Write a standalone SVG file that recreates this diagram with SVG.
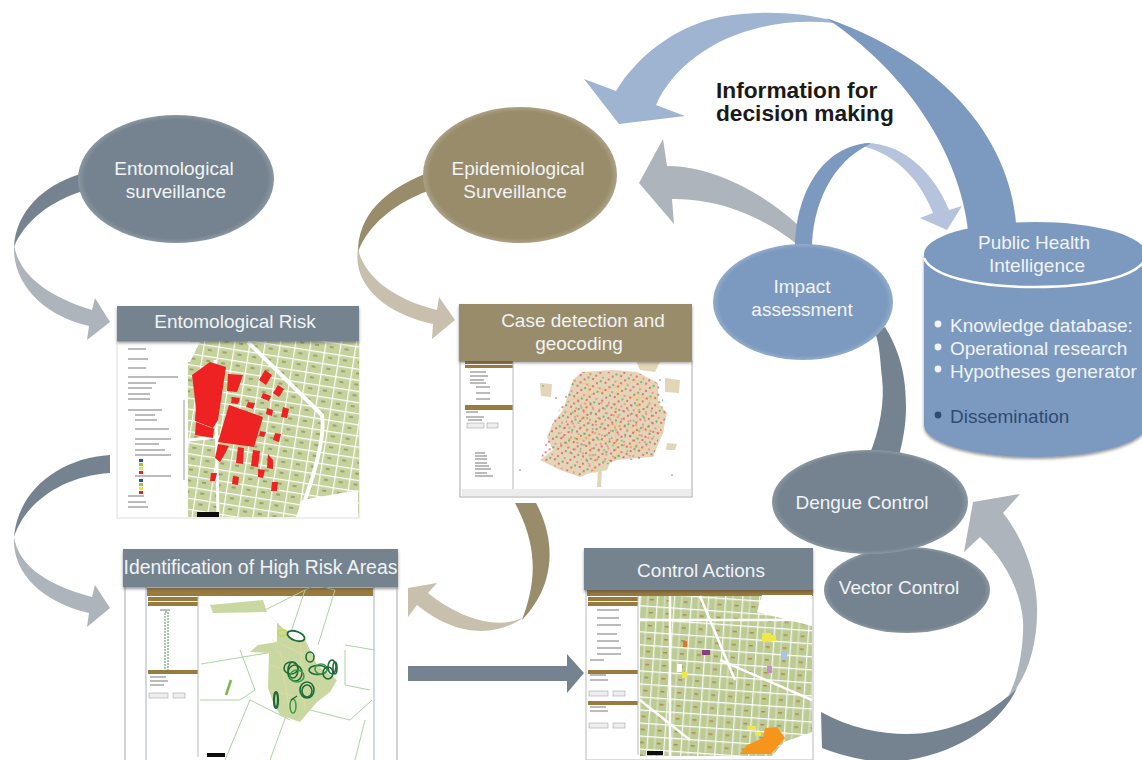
<svg xmlns="http://www.w3.org/2000/svg" width="1142" height="760" viewBox="0 0 1142 760">
<style>
text{font-family:"Liberation Sans",Arial,sans-serif;font-size:19px;fill:#f1f3f5}
.m{text-anchor:middle}
.slate{fill:#74838f}.olive{fill:#988c6b}.blue{fill:#7c9abf}.grey{fill:#aeb4bb}.tan{fill:#c8c0ac}.lb{fill:#9fb4d1}.lb2{fill:#b5c4dc}
.hd{filter:url(#sh)}
.row{stroke:#8d8d8d;stroke-width:1.4;fill:none;opacity:.8}
.bar{fill:#9b7a3c}
.btn{fill:#eee;stroke:#999;stroke-width:.5}
.rd{fill:#ee2024}
.road{fill:none;stroke:#fff}
.ring{fill:none;stroke:#1f6b35;stroke-width:1.6}
</style>
<defs>
<filter id="sh" x="-5%" y="-10%" width="110%" height="125%"><feDropShadow dx="0" dy="2" stdDeviation="1.500" flood-color="#444" flood-opacity=".55"/></filter>
<filter id="soft"><feGaussianBlur stdDeviation=".35"/></filter>
<radialGradient id="gS"><stop offset=".93" stop-color="#74838f"/><stop offset="1" stop-color="#8b97a1"/></radialGradient>
<radialGradient id="gO"><stop offset=".93" stop-color="#988c6b"/><stop offset="1" stop-color="#aca285"/></radialGradient>
<radialGradient id="gB"><stop offset=".93" stop-color="#7c9abf"/><stop offset="1" stop-color="#94acca"/></radialGradient>
<pattern id="st1" width="15" height="11" patternUnits="userSpaceOnUse" patternTransform="rotate(9)"><rect width="15" height="11" fill="#c5d29c"/><path d="M0 .6H15M.6 0V11" stroke="#fff" stroke-width="1.200"/><rect x="5" y="4" width="4" height="2" fill="#98a474"/></pattern>
<pattern id="st2" width="17" height="13" patternUnits="userSpaceOnUse" patternTransform="rotate(4)"><rect width="17" height="13" fill="#bccb94"/><path d="M0 .6H17M.7 0V13" stroke="#fff" stroke-width="1.100"/><path d="M8 0V13" stroke="#fff" stroke-width=".6"/><rect x="10" y="6" width="4" height="1.500" fill="#b08a4a"/></pattern>
<pattern id="d1" width="13" height="11" patternUnits="userSpaceOnUse" patternTransform="rotate(17)"><circle cx="2" cy="2" r=".9" fill="#e2454f"/><circle cx="7" cy="5" r=".9" fill="#e2454f"/><circle cx="11" cy="9" r=".9" fill="#ee7a82"/><circle cx="4" cy="9" r=".9" fill="#e2454f"/><circle cx="10" cy="2" r=".9" fill="#4da35a"/></pattern>
<pattern id="d2" width="10" height="12" patternUnits="userSpaceOnUse" patternTransform="rotate(-28)"><circle cx="2" cy="2" r=".8" fill="#e65a63"/><circle cx="7" cy="7" r=".8" fill="#e65a63"/><circle cx="2" cy="9" r=".8" fill="#4da35a"/></pattern>
</defs>
<rect width="1142" height="760" fill="#fff"/>

<g id="connectors">
<path class="slate" d="M80 174C42 186 16 212 14 247C24 222 50 201 83 191Z"/>
<path class="grey" d="M14 245C18 270 40 294 92 310L95 298L110 322L87 340L89 326C45 316 12 285 14 245Z"/>
<path class="slate" d="M110 455C60 458 18 490 14 537C24 505 60 476 110 473Z"/>
<path class="grey" d="M14 537C18 562 40 583 92 597L95 585L110 608L87 627L89 613C45 603 12 575 14 537Z"/>
<path class="olive" d="M425 174C385 190 358 215 358 252C368 225 395 203 428 191Z"/>
<path class="tan" d="M358 248C362 272 388 298 437 310L439 297L455 320L432 339L433 324C385 314 352 285 358 248Z"/>
<path class="olive" d="M515 503H536C556 540 556 585 522 620C535 585 540 550 515 503Z"/>
<path class="tan" d="M524 617C500 635 460 640 417 605L408 617V588L437 583L428 593C455 615 495 632 524 617Z"/>
<path class="slate" d="M408 666H567V654L584 673L567 693V681H408Z"/>
<path class="lb" d="M834 21C800 12 760 10 720 17C670 28 635 60 616 91L584 79L619 124L685 116L656 105C678 55 745 14 834 23Z"/>
<path class="blue" d="M1017 240C1017 155 960 65 826 18C925 85 965 175 969 240Z"/>
<path class="grey" d="M798 225C760 190 710 166 667 166L663 139L639 183L674 224L672 199C720 198 765 218 798 245Z"/>
<path class="lb2" d="M865 143C905 143 935 175 949 210L962 206L947 230L920 218L933 213C922 185 900 155 862 146Z"/>
<path class="blue" d="M870 143C825 145 795 190 795 250H812C812 205 832 162 870 144Z"/>
<path class="slate" d="M875 333L885 327C902 355 906 380 906 407C906 425 903 440 899 456H869C880 430 885 400 882 378C880 360 880 345 875 333Z"/>
<path class="slate" d="M821 712C850 728 880 734 907 734C950 734 990 715 1017 688C1000 725 950 762 880 762C860 760 840 755 822 748Z"/>
<path class="grey" d="M1008 697C1020 675 1024 640 1023 620C1020 590 1005 560 980 537L964 552L973 502L1020 494L1003 513C1025 540 1038 580 1037 613C1037 640 1030 670 1015 690Z"/>
</g>

<g id="entomological-surveillance">
<ellipse cx="176" cy="179" rx="98" ry="64" fill="url(#gS)"/>
<text class="m" x="174" y="175">Entomological</text>
<text class="m" x="176" y="198">surveillance</text>
</g>

<g id="epidemiological-surveillance">
<ellipse cx="520" cy="175" rx="97" ry="68" fill="url(#gO)"/>
<text class="m" x="518" y="175">Epidemiological</text>
<text class="m" x="515" y="198">Surveillance</text>
</g>

<g id="impact-assessment">
<ellipse cx="803" cy="302" rx="90" ry="58" fill="url(#gB)"/>
<text class="m" x="802" y="293">Impact</text>
<text class="m" x="802" y="316">assessment</text>
</g>

<g id="vector-control">
<ellipse cx="907" cy="590" rx="83" ry="43" fill="url(#gS)"/>
<text class="m" x="899" y="594">Vector Control</text>
</g>

<g id="dengue-control">
<ellipse cx="870" cy="502" rx="98" ry="52" fill="url(#gS)"/>
<text class="m" x="862" y="509">Dengue Control</text>
</g>

<g id="public-health-intelligence">
<path class="blue" d="M924 254V425C924 443 975 457 1035 457C1095 457 1146 443 1146 425V254Z" filter="url(#sh)"/>
<ellipse cx="1035" cy="254" rx="111" ry="32" class="blue"/>
<path d="M924 258C932 276 975 287 1035 287C1095 287 1138 276 1146 258" fill="none" stroke="#fff" stroke-width="2.500"/>
<text class="m" x="1034" y="249">Public Health</text>
<text class="m" x="1037" y="272">Intelligence</text>
<circle cx="938" cy="324" r="3.400" fill="#f1f3f5"/><circle cx="938" cy="347" r="3.400" fill="#f1f3f5"/><circle cx="938" cy="369" r="3.400" fill="#f1f3f5"/><circle cx="938" cy="415" r="3.400" fill="#2f4a75"/>
<text x="950" y="332">Knowledge database:</text>
<text x="950" y="355">Operational research</text>
<text x="950" y="378">Hypotheses generator</text>
<text x="950" y="423" style="fill:#2f4a75">Dissemination</text>
</g>

<g id="entomological-risk">
<g filter="url(#soft)">
<rect x="117" y="341" width="242" height="177" fill="#fff" stroke="#ddd"/>
<rect x="188" y="341" width="171" height="176" fill="url(#st1)"/>
<path fill="#fff" d="M188 342H200L190 362H188ZM302 500L358 490V517H296Z"/>
<path class="road" stroke-width="4" d="M248 342L322 415Q326 440 305 500"/>
<path class="road" stroke-width="3" d="M215 360L218 517M188 440L240 435"/>
<path class="rd" d="M210 362L226 367L218 420L213 428L195 421L196 408L192 375ZM196 422L214 429L213 438L195 435ZM228 374L243 375L237 392L227 391ZM265 370L272 375L266 385L259 380ZM278 385L284 389L279 397L273 393ZM232 397L240 398L238 404L231 403ZM263 393L271 396L269 401L261 398ZM248 402L255 403L253 409L246 407ZM267 408L273 410L272 416L266 414ZM283 407L289 409L287 418L281 417ZM229 405L263 417L254 447L218 442ZM260 431L266 432L264 437L259 436ZM275 433L281 434L279 442L273 440ZM218 444L229 446L223 457L220 462L215 458ZM238 447L244 448L243 464L236 463ZM253 450L260 451L258 467L251 466ZM268 454L273 460L273 469L267 468ZM258 469L265 470L263 478L258 477ZM211 473L217 473L215 481L210 481ZM233 476L239 477L238 485L232 484ZM272 482L278 482L277 491L271 491Z"/>
<rect x="197" y="512" width="22" height="5" fill="#111"/>
<path class="row" d="M128 349h18M128 359h20M128 368h18M128 377h50M128 383h28M128 388h24M128 394h22M128 399h22M128 410h34M135 415h20M135 420h22M135 429h34M135 439h36M135 444h24M135 450h30M135 455h36M135 476h36M128 496h16M128 502h18M128 507h20"/>
<path fill="#1d56a8" d="M139 459h4v3h-4zM139 479h4v3h-4z"/><path fill="#a5c52f" d="M139 463h4v3h-4zM139 483h4v3h-4z"/><path fill="#f1e032" d="M139 467h4v3h-4zM139 487h4v3h-4z"/><path fill="#ee2024" d="M139 471h4v3h-4zM139 491h4v3h-4z"/>
<rect x="183" y="400" width="2" height="80" fill="#ccc"/>
</g>
<rect class="slate hd" x="117" y="306" width="242" height="35"/>
<text class="m" x="235" y="328">Entomological Risk</text>
</g>

<g id="case-detection">
<g filter="url(#soft)">
<rect x="460" y="361" width="232" height="136" fill="#fff" stroke="#aaa"/>
<rect x="462" y="489" width="229" height="7" fill="#ececec"/>
<path class="bar" d="M465 361h48v3h-48zM465 365h48v3h-48zM465 405h48v5h-48z"/>
<path d="M513 362V489" stroke="#bbb"/>
<path class="row" d="M470 372h16M470 376h18M470 380h14M470 383h16M476 387h14M476 393h14M476 399h14M466 412h12M466 417h18M468 420h14M475 453h10M475 456h12M475 459h12M475 463h12M475 466h14M475 469h16M475 473h12M475 476h18"/>
<rect x="467" y="423" width="17" height="5" class="btn"/><rect x="487" y="423" width="11" height="5" class="btn"/>
<path fill="#e3d5b8" d="M582 372L613 370L637 372L658 383L658 403L667 413L663 433L657 447L653 457L637 458L617 460L610 463L607 470L597 472L590 473L580 477L560 470L540 460L553 450L547 437L553 423L563 410L573 380ZM540 383L552 384L551 397L541 396ZM665 378L680 380L679 393L665 392ZM667 443L677 444L675 450L666 450ZM598 470L602 470L601 487L597 487ZM635 358L660 362L655 372L640 370Z"/>
<path fill="none" stroke="#edc97d" stroke-width=".7" d="M573 380L620 395L660 400M563 410L610 425L663 433M553 437L600 440L650 450M590 372L585 420L595 473M620 372L615 430L617 460M570 400L640 380M640 380L635 455M555 450L625 420M640 395L667 413"/>
<path fill="url(#d1)" d="M582 372L637 372L658 383L667 413L653 457L610 463L580 477L540 460L553 423L573 380Z"/>
<path fill="url(#d2)" d="M575 400L650 405L660 430L640 455L590 465L555 445Z"/>
<circle cx="543" cy="386" r=".8" fill="#4da35a"/><circle cx="556" cy="398" r=".8" fill="#e2454f"/><circle cx="520" cy="470" r=".8" fill="#4da35a"/><circle cx="672" cy="475" r=".8" fill="#4da35a"/><circle cx="660" cy="380" r=".8" fill="#4da35a"/>
</g>
<rect class="olive hd" x="459" y="304" width="233" height="57"/>
<text class="m" x="583" y="327">Case detection and</text>
<text class="m" x="579" y="350">geocoding</text>
</g>

<g id="high-risk-areas">
<g filter="url(#soft)">
<path d="M125 587V760M397 587V760" stroke="#a9a9a9" stroke-width="1"/>
<path d="M146 587V760M374 587V760" stroke="#9fb4d1" stroke-width="1"/>
<rect x="147" y="588" width="226" height="172" fill="#fff"/>
<rect class="bar" x="147" y="588" width="226" height="8"/>
<path class="bar" d="M148 597h50v4h-50zM148 602h50v4h-50zM148 670h50v4h-50z"/>
<path d="M198 596V757" stroke="#bbb"/>
<path fill="none" stroke="#aad4a0" d="M201 664L285 650L305 590M265 610L315 585L335 590L318 645M345 650L345 685L370 690M200 700L240 700L255 690L240 650M225 760L250 700L290 720M270 760L290 705L350 720M350 720L372 700M355 760L365 720M375 650L345 645"/>
<path fill="#c8d8a0" d="M267 613L287 632L303 635L317 665L337 680L330 692L317 702L300 722L280 715L273 702L268 688L269 653L250 652L258 645L277 642L277 622ZM210 605L263 600L267 612L213 613Z"/>
<path fill="none" stroke="#eed9a6" stroke-width=".6" d="M272 640L315 660M270 665L325 680M280 650L290 715M300 640L305 710M270 690L310 700M275 650L320 690"/>
<path stroke="#7cb84a" stroke-width="2.500" d="M226 695L231 680"/>
<ellipse cx="283" cy="633" rx="5" ry="3" fill="none" stroke="#c6d84a" stroke-width="1.500"/>
<ellipse cx="296" cy="636" rx="9" ry="4.500" transform="rotate(20 296 636)" fill="#fff" stroke="#1f6b35" stroke-width="1.800"/>
<ellipse class="ring" cx="310" cy="657" rx="4" ry="5"/>
<ellipse class="ring" cx="291" cy="668" rx="7" ry="6"/>
<ellipse class="ring" cx="293" cy="670" rx="5" ry="8"/>
<ellipse class="ring" cx="295" cy="673" rx="7" ry="8"/>
<ellipse class="ring" cx="297" cy="676" rx="7" ry="6" style="stroke:#3a9c4a"/>
<ellipse class="ring" cx="318" cy="670" rx="9" ry="4.500"/>
<ellipse class="ring" cx="321" cy="669" rx="6" ry="5" style="stroke:#3a9c4a"/>
<ellipse class="ring" cx="328" cy="673" rx="5" ry="6"/>
<ellipse class="ring" cx="332" cy="667" rx="4" ry="7"/>
<ellipse class="ring" cx="335" cy="668" rx="2" ry="6"/>
<ellipse class="ring" cx="307" cy="690" rx="7" ry="8"/>
<ellipse class="ring" cx="307" cy="691" rx="5" ry="6"/>
<ellipse class="ring" cx="276" cy="700" rx="2" ry="8" style="stroke-width:2.200"/>
<ellipse cx="293" cy="706" rx="3" ry="7" fill="none" stroke="#3a9c4a" stroke-width="1.500"/>
<path d="M291 700L297 696" stroke="#1f6b35" stroke-width="1.500"/>
<rect x="165" y="612" width="3" height="60" fill="none" stroke="#4f8f5a" stroke-width="1" stroke-dasharray="2 1"/>
<path class="row" d="M160 610h10M150 677h16M150 681h18M150 685h14"/>
<rect x="149" y="693" width="19" height="5" class="btn"/><rect x="173" y="693" width="12" height="5" class="btn"/>
<rect x="207" y="753" width="18" height="4" fill="#111"/>
</g>
<rect class="slate hd" x="123" y="549" width="275" height="38"/>
<text class="m" x="260.500" y="574" style="font-size:19.400px">Identification of High Risk Areas</text>
</g>

<g id="control-actions">
<g filter="url(#soft)">
<rect x="586" y="590" width="227" height="170" fill="#fff" stroke="#bbb"/>
<rect class="bar" x="587" y="590" width="226" height="6"/>
<rect x="640" y="596" width="172" height="160" fill="url(#st2)"/>
<path fill="#fff" d="M762 595H812V626L757 612ZM784 742L812 732V756H772Z"/>
<path class="road" stroke-width="2.500" d="M640 620H812M670 596V756M700 596L735 680M640 700L690 740M720 660L812 700"/>
<path fill="#f7941d" d="M765 728L777 727L785 738L771 754L740 754L747 745L763 738Z"/>
<path fill="#f0e64a" d="M762 633h9v8h-9zM771 635h5v6h-5zM747 726h9v4h-9zM755 732h6v4h-6zM682 672h5v6h-5z"/>
<rect x="702" y="650" width="8" height="5" fill="#8a3f7e"/>
<rect x="767" y="666" width="5" height="7" fill="#c78fc8"/>
<rect x="683" y="641" width="4" height="6" fill="#e8712b"/>
<rect x="781" y="652" width="6" height="7" fill="#a9c5e0"/>
<rect x="677" y="664" width="5" height="8" fill="#fff"/>
<path class="bar" d="M588 597h50v4h-50zM588 602h50v4h-50zM588 670h50v4h-50zM588 701h50v4h-50z"/>
<path d="M638 596V755" stroke="#bbb"/>
<path class="row" d="M597 610h22M597 618h22M597 625h24M597 634h20M597 641h22M597 648h24M597 654h24M590 660h14M590 675h16M590 680h18M590 707h16M590 711h18"/>
<rect x="589" y="691" width="19" height="5" class="btn"/><rect x="613" y="691" width="12" height="5" class="btn"/><rect x="589" y="723" width="19" height="5" class="btn"/><rect x="613" y="723" width="12" height="5" class="btn"/>
<rect x="647" y="751" width="16" height="4" fill="#111"/>
</g>
<rect class="slate hd" x="584" y="548" width="229" height="42"/>
<text class="m" x="701" y="577">Control Actions</text>
</g>

<g id="information-label">
<text style="font-size:22.700px;font-weight:700;fill:#1a1a1a"><tspan x="716" y="98">Information for</tspan><tspan x="716" y="121">decision making</tspan></text>
</g>
</svg>
